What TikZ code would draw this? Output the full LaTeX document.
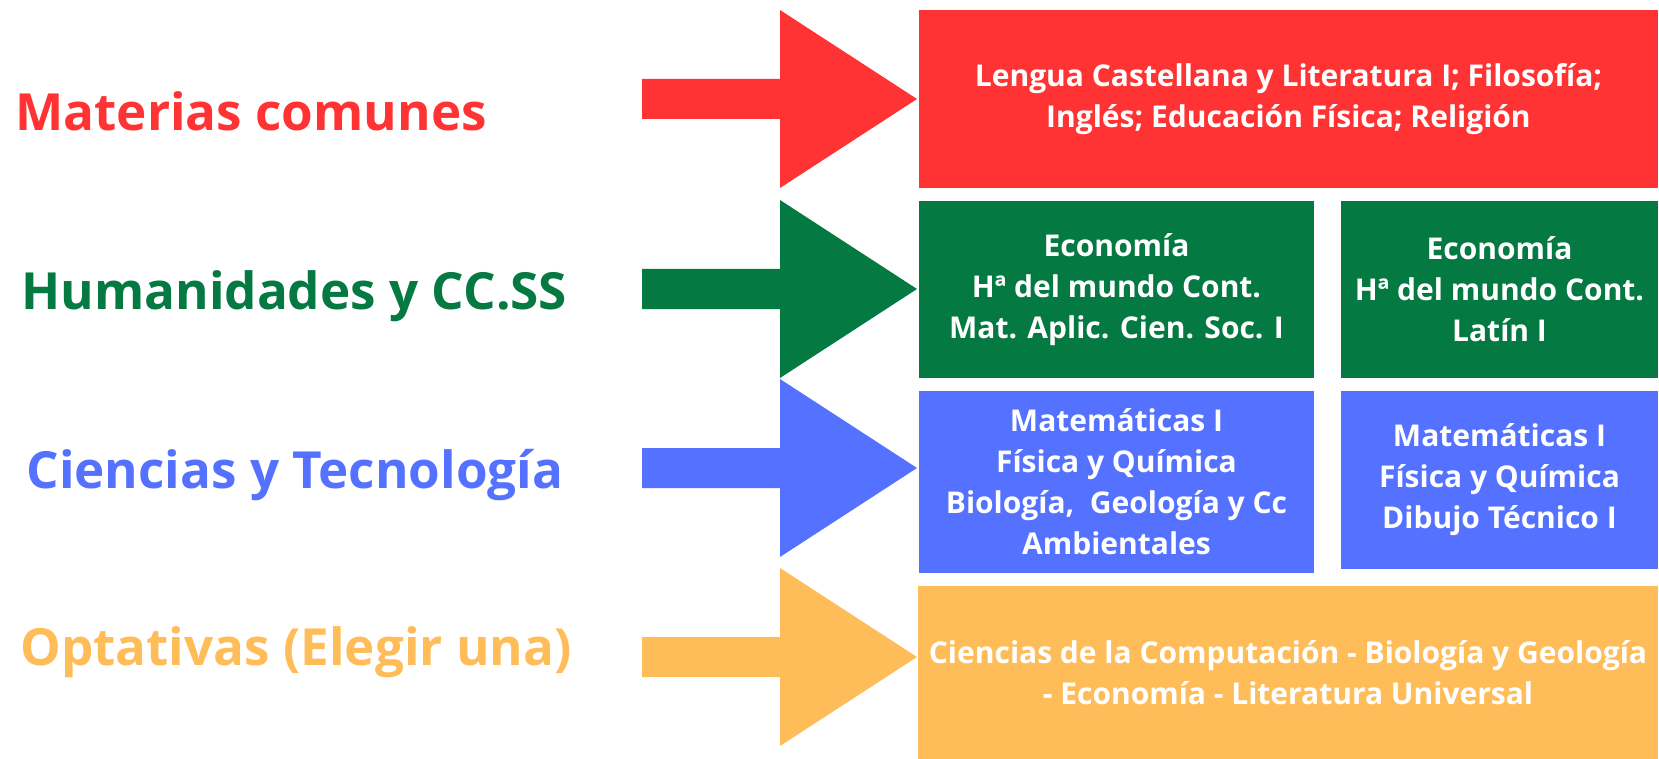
\documentclass[tikz,border=0pt]{standalone}
\usepackage{fontspec}
\setmainfont{Open Sans}
\definecolor{redC}{RGB}{255,51,51}
\definecolor{greenC}{RGB}{4,121,66}
\definecolor{blueC}{RGB}{84,114,255}
\definecolor{orangeC}{RGB}{255,189,89}
\tikzset{
    box/.style={rectangle,inner sep=0pt,align=center,text=white,
        font=\bfseries\fontsize{15}{20.5}\selectfont},
    title/.style={anchor=base west,inner sep=0pt,
        font=\bfseries\fontsize{25.6}{30}\selectfont}
}
\begin{document}
\begin{tikzpicture}[x=0.5pt,y=-0.5pt]
                \useasboundingbox (0,0) rectangle (1659,759);
                % row titles
                \node[title,text=redC] (tcom) at (15,131) {Materias comunes};
                \node[title,text=greenC] (thum) at (21,309) {Humanidades y CC.SS};
                \node[title,text=blueC] (tcie) at (26,488) {Ciencias y Tecnología};
                \node[title,text=orangeC] (topt) at (20,665) {Optativas (Elegir una)};
                % block arrows
                \foreach \y/\c in {99/redC,289/greenC,468/blueC,657/orangeC}{
                    \fill[\c] (642,\y-20) -- (780,\y-20) -- (780,\y-89) -- (917,\y)
                        -- (780,\y+89) -- (780,\y+20) -- (642,\y+20) -- cycle;
                }
                % subject boxes
                \node[box,fill=redC,minimum width=369.5pt,minimum height=89pt] (com) at (1288.5,99)
                    {Lengua Castellana y Literatura I; Filosofía;\\Inglés; Educación Física; Religión};
                \node[box,fill=greenC,minimum width=197.5pt,minimum height=88.5pt] (huma) at (1116.5,289.5)
                    {Economía\\Hª del mundo Cont.\\Mat. Aplic. Cien. Soc. I};
                \node[box,fill=greenC,minimum width=158.5pt,minimum height=88.5pt] (humb) at (1499.5,289.5)
                    {Economía\\Hª del mundo Cont.\\Latín I};
                \node[box,fill=blueC,minimum width=197.5pt,minimum height=91pt] (ciea) at (1116.5,482)
                    {Matemáticas I\\Física y Química\\Biología,\ \ Geología y Cc\\Ambientales};
                \node[box,fill=blueC,minimum width=158.5pt,minimum height=89pt] (cieb) at (1499.5,480)
                    {Matemáticas I\\Física y Química\\Dibujo Técnico I};
                \node[box,fill=orangeC,minimum width=370pt,minimum height=86.5pt] (opt) at (1288,672.5)
                    {Ciencias de la Computación - Biología y Geología\\- Economía - Literatura Universal};
\end{tikzpicture}
\end{document}
